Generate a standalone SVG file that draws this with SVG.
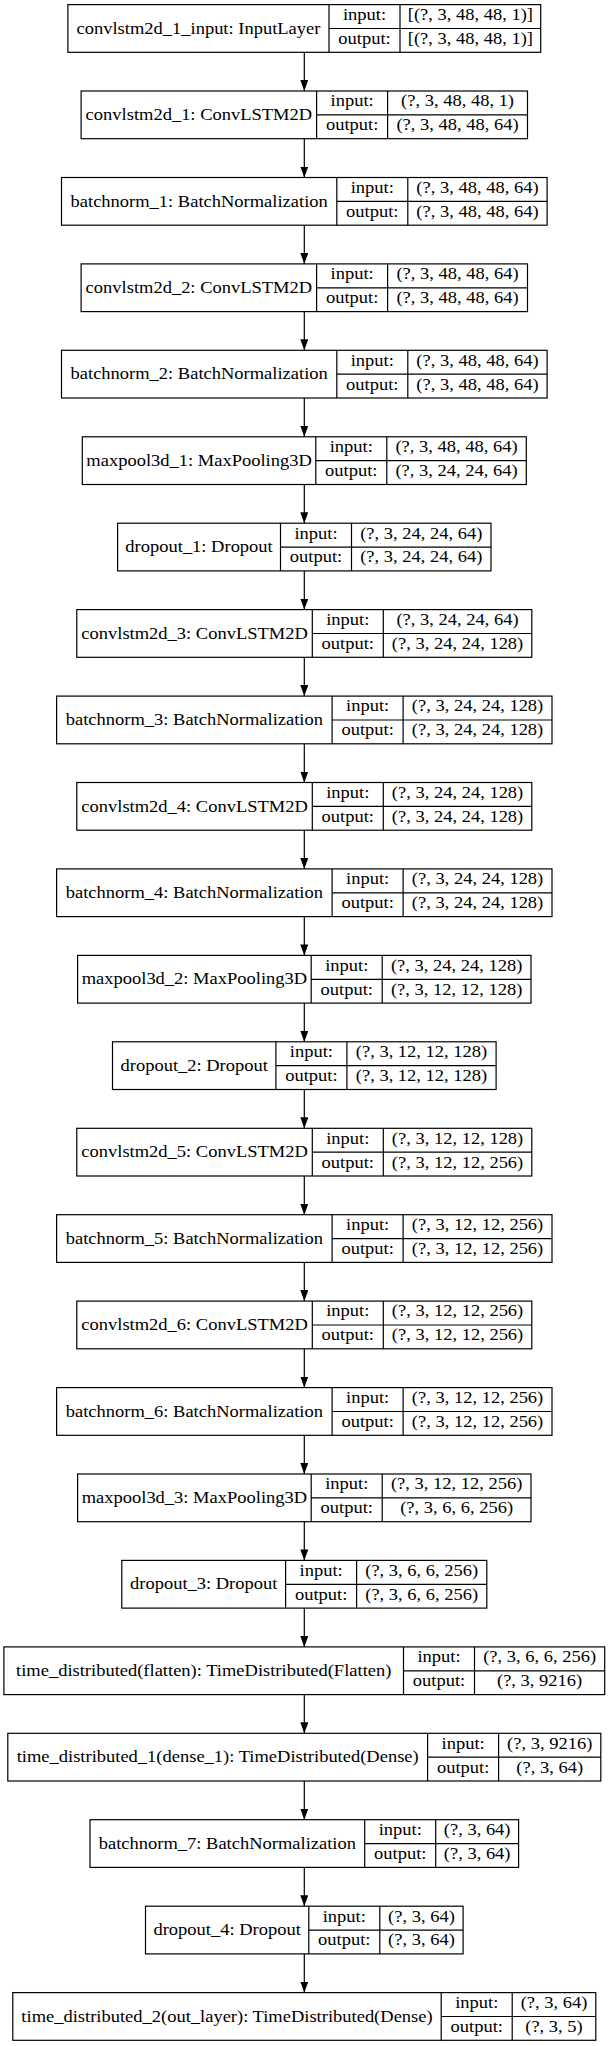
<svg xmlns="http://www.w3.org/2000/svg" width="608" height="2046" viewBox="0 0 608 2046">
<style>
.box{fill:#fff;stroke:#000;stroke-width:1.2}
.sep{fill:none;stroke:#000;stroke-width:1.2}
.edge{fill:none;stroke:#000;stroke-width:1.2}
text{font-family:"Liberation Serif","Times New Roman",serif;font-size:16.2px;fill:#000;text-anchor:middle}
</style>
<defs>
<marker id="ah" markerUnits="userSpaceOnUse" markerWidth="11" markerHeight="8" viewBox="0 0 11 8" refX="11" refY="4" orient="auto">
<path d="M0,0L11,4L0,8z" fill="#000"/>
</marker>
</defs>
<rect x="0" y="0" width="608" height="2046" fill="#fff"/>
<g id="edges">
<path class="edge" marker-end="url(#ah)" d="M304.3,52.3V91.0"/>
<path class="edge" marker-end="url(#ah)" d="M304.3,138.7V177.5"/>
<path class="edge" marker-end="url(#ah)" d="M304.3,225.2V263.9"/>
<path class="edge" marker-end="url(#ah)" d="M304.3,311.6V350.3"/>
<path class="edge" marker-end="url(#ah)" d="M304.3,398.0V436.8"/>
<path class="edge" marker-end="url(#ah)" d="M304.3,484.5V523.2"/>
<path class="edge" marker-end="url(#ah)" d="M304.3,570.9V609.6"/>
<path class="edge" marker-end="url(#ah)" d="M304.3,657.3V696.1"/>
<path class="edge" marker-end="url(#ah)" d="M304.3,743.8V782.5"/>
<path class="edge" marker-end="url(#ah)" d="M304.3,830.2V868.9"/>
<path class="edge" marker-end="url(#ah)" d="M304.3,916.6V955.4"/>
<path class="edge" marker-end="url(#ah)" d="M304.3,1003.1V1041.8"/>
<path class="edge" marker-end="url(#ah)" d="M304.3,1089.5V1128.3"/>
<path class="edge" marker-end="url(#ah)" d="M304.3,1176.0V1214.7"/>
<path class="edge" marker-end="url(#ah)" d="M304.3,1262.4V1301.1"/>
<path class="edge" marker-end="url(#ah)" d="M304.3,1348.8V1387.6"/>
<path class="edge" marker-end="url(#ah)" d="M304.3,1435.3V1474.0"/>
<path class="edge" marker-end="url(#ah)" d="M304.3,1521.7V1560.4"/>
<path class="edge" marker-end="url(#ah)" d="M304.3,1608.1V1646.9"/>
<path class="edge" marker-end="url(#ah)" d="M304.3,1694.6V1733.3"/>
<path class="edge" marker-end="url(#ah)" d="M304.3,1781.0V1819.7"/>
<path class="edge" marker-end="url(#ah)" d="M304.3,1867.4V1906.2"/>
<path class="edge" marker-end="url(#ah)" d="M304.3,1953.9V1992.6"/>
</g>

<g id="n0" transform="translate(0,4.6)">
<rect class="box" x="67.9" y="0" width="472.8" height="47.7"/>
<path class="sep" d="M329,0V47.7M400,0V47.7M329,23.9H540.7"/>
<text transform="translate(198.45,29) scale(1.142,1)">convlstm2d_1_input: InputLayer</text>
<text transform="translate(364.5,15.3) scale(1.142,1)">input:</text>
<text transform="translate(364.5,39.2) scale(1.142,1)">output:</text>
<text transform="translate(470.35,15.3) scale(1.142,1)">[(?, 3, 48, 48, 1)]</text>
<text transform="translate(470.35,39.2) scale(1.142,1)">[(?, 3, 48, 48, 1)]</text>
</g>

<g id="n1" transform="translate(0,91.0)">
<rect class="box" x="81.1" y="0" width="446.4" height="47.7"/>
<path class="sep" d="M316.6,0V47.7M387.6,0V47.7M316.6,23.9H527.5"/>
<text transform="translate(198.85,29) scale(1.142,1)">convlstm2d_1: ConvLSTM2D</text>
<text transform="translate(352.1,15.3) scale(1.142,1)">input:</text>
<text transform="translate(352.1,39.2) scale(1.142,1)">output:</text>
<text transform="translate(457.55,15.3) scale(1.142,1)">(?, 3, 48, 48, 1)</text>
<text transform="translate(457.55,39.2) scale(1.142,1)">(?, 3, 48, 48, 64)</text>
</g>

<g id="n2" transform="translate(0,177.5)">
<rect class="box" x="61.5" y="0" width="485.6" height="47.7"/>
<path class="sep" d="M336.8,0V47.7M407.8,0V47.7M336.8,23.9H547.1"/>
<text transform="translate(199.15,29) scale(1.142,1)">batchnorm_1: BatchNormalization</text>
<text transform="translate(372.3,15.3) scale(1.142,1)">input:</text>
<text transform="translate(372.3,39.2) scale(1.142,1)">output:</text>
<text transform="translate(477.45,15.3) scale(1.142,1)">(?, 3, 48, 48, 64)</text>
<text transform="translate(477.45,39.2) scale(1.142,1)">(?, 3, 48, 48, 64)</text>
</g>

<g id="n3" transform="translate(0,263.9)">
<rect class="box" x="81.1" y="0" width="446.4" height="47.7"/>
<path class="sep" d="M316.6,0V47.7M387.6,0V47.7M316.6,23.9H527.5"/>
<text transform="translate(198.85,29) scale(1.142,1)">convlstm2d_2: ConvLSTM2D</text>
<text transform="translate(352.1,15.3) scale(1.142,1)">input:</text>
<text transform="translate(352.1,39.2) scale(1.142,1)">output:</text>
<text transform="translate(457.55,15.3) scale(1.142,1)">(?, 3, 48, 48, 64)</text>
<text transform="translate(457.55,39.2) scale(1.142,1)">(?, 3, 48, 48, 64)</text>
</g>

<g id="n4" transform="translate(0,350.3)">
<rect class="box" x="61.5" y="0" width="485.6" height="47.7"/>
<path class="sep" d="M336.8,0V47.7M407.8,0V47.7M336.8,23.9H547.1"/>
<text transform="translate(199.15,29) scale(1.142,1)">batchnorm_2: BatchNormalization</text>
<text transform="translate(372.3,15.3) scale(1.142,1)">input:</text>
<text transform="translate(372.3,39.2) scale(1.142,1)">output:</text>
<text transform="translate(477.45,15.3) scale(1.142,1)">(?, 3, 48, 48, 64)</text>
<text transform="translate(477.45,39.2) scale(1.142,1)">(?, 3, 48, 48, 64)</text>
</g>

<g id="n5" transform="translate(0,436.8)">
<rect class="box" x="82.3" y="0" width="444.0" height="47.7"/>
<path class="sep" d="M315.8,0V47.7M386.8,0V47.7M315.8,23.9H526.3"/>
<text transform="translate(199.05,29) scale(1.142,1)">maxpool3d_1: MaxPooling3D</text>
<text transform="translate(351.3,15.3) scale(1.142,1)">input:</text>
<text transform="translate(351.3,39.2) scale(1.142,1)">output:</text>
<text transform="translate(456.55,15.3) scale(1.142,1)">(?, 3, 48, 48, 64)</text>
<text transform="translate(456.55,39.2) scale(1.142,1)">(?, 3, 24, 24, 64)</text>
</g>

<g id="n6" transform="translate(0,523.2)">
<rect class="box" x="117.6" y="0" width="373.4" height="47.7"/>
<path class="sep" d="M280.5,0V47.7M351.5,0V47.7M280.5,23.9H491"/>
<text transform="translate(199.05,29) scale(1.142,1)">dropout_1: Dropout</text>
<text transform="translate(316,15.3) scale(1.142,1)">input:</text>
<text transform="translate(316,39.2) scale(1.142,1)">output:</text>
<text transform="translate(421.25,15.3) scale(1.142,1)">(?, 3, 24, 24, 64)</text>
<text transform="translate(421.25,39.2) scale(1.142,1)">(?, 3, 24, 24, 64)</text>
</g>

<g id="n7" transform="translate(0,609.6)">
<rect class="box" x="76.8" y="0" width="455.0" height="47.7"/>
<path class="sep" d="M312.3,0V47.7M383.3,0V47.7M312.3,23.9H531.8"/>
<text transform="translate(194.55,29) scale(1.142,1)">convlstm2d_3: ConvLSTM2D</text>
<text transform="translate(347.8,15.3) scale(1.142,1)">input:</text>
<text transform="translate(347.8,39.2) scale(1.142,1)">output:</text>
<text transform="translate(457.55,15.3) scale(1.142,1)">(?, 3, 24, 24, 64)</text>
<text transform="translate(457.55,39.2) scale(1.142,1)">(?, 3, 24, 24, 128)</text>
</g>

<g id="n8" transform="translate(0,696.1)">
<rect class="box" x="56.6" y="0" width="495.4" height="47.7"/>
<path class="sep" d="M332.1,0V47.7M403.1,0V47.7M332.1,23.9H552"/>
<text transform="translate(194.35,29) scale(1.142,1)">batchnorm_3: BatchNormalization</text>
<text transform="translate(367.6,15.3) scale(1.142,1)">input:</text>
<text transform="translate(367.6,39.2) scale(1.142,1)">output:</text>
<text transform="translate(477.55,15.3) scale(1.142,1)">(?, 3, 24, 24, 128)</text>
<text transform="translate(477.55,39.2) scale(1.142,1)">(?, 3, 24, 24, 128)</text>
</g>

<g id="n9" transform="translate(0,782.5)">
<rect class="box" x="76.8" y="0" width="455.0" height="47.7"/>
<path class="sep" d="M312.3,0V47.7M383.3,0V47.7M312.3,23.9H531.8"/>
<text transform="translate(194.55,29) scale(1.142,1)">convlstm2d_4: ConvLSTM2D</text>
<text transform="translate(347.8,15.3) scale(1.142,1)">input:</text>
<text transform="translate(347.8,39.2) scale(1.142,1)">output:</text>
<text transform="translate(457.55,15.3) scale(1.142,1)">(?, 3, 24, 24, 128)</text>
<text transform="translate(457.55,39.2) scale(1.142,1)">(?, 3, 24, 24, 128)</text>
</g>

<g id="n10" transform="translate(0,868.9)">
<rect class="box" x="56.6" y="0" width="495.4" height="47.7"/>
<path class="sep" d="M332.1,0V47.7M403.1,0V47.7M332.1,23.9H552"/>
<text transform="translate(194.35,29) scale(1.142,1)">batchnorm_4: BatchNormalization</text>
<text transform="translate(367.6,15.3) scale(1.142,1)">input:</text>
<text transform="translate(367.6,39.2) scale(1.142,1)">output:</text>
<text transform="translate(477.55,15.3) scale(1.142,1)">(?, 3, 24, 24, 128)</text>
<text transform="translate(477.55,39.2) scale(1.142,1)">(?, 3, 24, 24, 128)</text>
</g>

<g id="n11" transform="translate(0,955.4)">
<rect class="box" x="77.6" y="0" width="453.4" height="47.7"/>
<path class="sep" d="M311.2,0V47.7M382.2,0V47.7M311.2,23.9H531"/>
<text transform="translate(194.4,29) scale(1.142,1)">maxpool3d_2: MaxPooling3D</text>
<text transform="translate(346.7,15.3) scale(1.142,1)">input:</text>
<text transform="translate(346.7,39.2) scale(1.142,1)">output:</text>
<text transform="translate(456.6,15.3) scale(1.142,1)">(?, 3, 24, 24, 128)</text>
<text transform="translate(456.6,39.2) scale(1.142,1)">(?, 3, 12, 12, 128)</text>
</g>

<g id="n12" transform="translate(0,1041.8)">
<rect class="box" x="112.5" y="0" width="383.6" height="47.7"/>
<path class="sep" d="M275.9,0V47.7M346.9,0V47.7M275.9,23.9H496.1"/>
<text transform="translate(194.2,29) scale(1.142,1)">dropout_2: Dropout</text>
<text transform="translate(311.4,15.3) scale(1.142,1)">input:</text>
<text transform="translate(311.4,39.2) scale(1.142,1)">output:</text>
<text transform="translate(421.5,15.3) scale(1.142,1)">(?, 3, 12, 12, 128)</text>
<text transform="translate(421.5,39.2) scale(1.142,1)">(?, 3, 12, 12, 128)</text>
</g>

<g id="n13" transform="translate(0,1128.3)">
<rect class="box" x="76.8" y="0" width="455.0" height="47.7"/>
<path class="sep" d="M312.3,0V47.7M383.3,0V47.7M312.3,23.9H531.8"/>
<text transform="translate(194.55,29) scale(1.142,1)">convlstm2d_5: ConvLSTM2D</text>
<text transform="translate(347.8,15.3) scale(1.142,1)">input:</text>
<text transform="translate(347.8,39.2) scale(1.142,1)">output:</text>
<text transform="translate(457.55,15.3) scale(1.142,1)">(?, 3, 12, 12, 128)</text>
<text transform="translate(457.55,39.2) scale(1.142,1)">(?, 3, 12, 12, 256)</text>
</g>

<g id="n14" transform="translate(0,1214.7)">
<rect class="box" x="56.6" y="0" width="495.4" height="47.7"/>
<path class="sep" d="M332.1,0V47.7M403.1,0V47.7M332.1,23.9H552"/>
<text transform="translate(194.35,29) scale(1.142,1)">batchnorm_5: BatchNormalization</text>
<text transform="translate(367.6,15.3) scale(1.142,1)">input:</text>
<text transform="translate(367.6,39.2) scale(1.142,1)">output:</text>
<text transform="translate(477.55,15.3) scale(1.142,1)">(?, 3, 12, 12, 256)</text>
<text transform="translate(477.55,39.2) scale(1.142,1)">(?, 3, 12, 12, 256)</text>
</g>

<g id="n15" transform="translate(0,1301.1)">
<rect class="box" x="76.8" y="0" width="455.0" height="47.7"/>
<path class="sep" d="M312.3,0V47.7M383.3,0V47.7M312.3,23.9H531.8"/>
<text transform="translate(194.55,29) scale(1.142,1)">convlstm2d_6: ConvLSTM2D</text>
<text transform="translate(347.8,15.3) scale(1.142,1)">input:</text>
<text transform="translate(347.8,39.2) scale(1.142,1)">output:</text>
<text transform="translate(457.55,15.3) scale(1.142,1)">(?, 3, 12, 12, 256)</text>
<text transform="translate(457.55,39.2) scale(1.142,1)">(?, 3, 12, 12, 256)</text>
</g>

<g id="n16" transform="translate(0,1387.6)">
<rect class="box" x="56.6" y="0" width="495.4" height="47.7"/>
<path class="sep" d="M332.1,0V47.7M403.1,0V47.7M332.1,23.9H552"/>
<text transform="translate(194.35,29) scale(1.142,1)">batchnorm_6: BatchNormalization</text>
<text transform="translate(367.6,15.3) scale(1.142,1)">input:</text>
<text transform="translate(367.6,39.2) scale(1.142,1)">output:</text>
<text transform="translate(477.55,15.3) scale(1.142,1)">(?, 3, 12, 12, 256)</text>
<text transform="translate(477.55,39.2) scale(1.142,1)">(?, 3, 12, 12, 256)</text>
</g>

<g id="n17" transform="translate(0,1474.0)">
<rect class="box" x="77.6" y="0" width="453.4" height="47.7"/>
<path class="sep" d="M311.2,0V47.7M382.2,0V47.7M311.2,23.9H531"/>
<text transform="translate(194.4,29) scale(1.142,1)">maxpool3d_3: MaxPooling3D</text>
<text transform="translate(346.7,15.3) scale(1.142,1)">input:</text>
<text transform="translate(346.7,39.2) scale(1.142,1)">output:</text>
<text transform="translate(456.6,15.3) scale(1.142,1)">(?, 3, 12, 12, 256)</text>
<text transform="translate(456.6,39.2) scale(1.142,1)">(?, 3, 6, 6, 256)</text>
</g>

<g id="n18" transform="translate(0,1560.4)">
<rect class="box" x="121.8" y="0" width="365.0" height="47.7"/>
<path class="sep" d="M285.6,0V47.7M356.6,0V47.7M285.6,23.9H486.8"/>
<text transform="translate(203.7,29) scale(1.142,1)">dropout_3: Dropout</text>
<text transform="translate(321.1,15.3) scale(1.142,1)">input:</text>
<text transform="translate(321.1,39.2) scale(1.142,1)">output:</text>
<text transform="translate(421.7,15.3) scale(1.142,1)">(?, 3, 6, 6, 256)</text>
<text transform="translate(421.7,39.2) scale(1.142,1)">(?, 3, 6, 6, 256)</text>
</g>

<g id="n19" transform="translate(0,1646.9)">
<rect class="box" x="3.9" y="0" width="600.8" height="47.7"/>
<path class="sep" d="M403.5,0V47.7M474.5,0V47.7M403.5,23.9H604.7"/>
<text transform="translate(203.7,29) scale(1.142,1)">time_distributed(flatten): TimeDistributed(Flatten)</text>
<text transform="translate(439,15.3) scale(1.142,1)">input:</text>
<text transform="translate(439,39.2) scale(1.142,1)">output:</text>
<text transform="translate(539.6,15.3) scale(1.142,1)">(?, 3, 6, 6, 256)</text>
<text transform="translate(539.6,39.2) scale(1.142,1)">(?, 3, 9216)</text>
</g>

<g id="n20" transform="translate(0,1733.3)">
<rect class="box" x="7.8" y="0" width="593.0" height="47.7"/>
<path class="sep" d="M427.6,0V47.7M498.6,0V47.7M427.6,23.9H600.8"/>
<text transform="translate(217.7,29) scale(1.142,1)">time_distributed_1(dense_1): TimeDistributed(Dense)</text>
<text transform="translate(463.1,15.3) scale(1.142,1)">input:</text>
<text transform="translate(463.1,39.2) scale(1.142,1)">output:</text>
<text transform="translate(549.7,15.3) scale(1.142,1)">(?, 3, 9216)</text>
<text transform="translate(549.7,39.2) scale(1.142,1)">(?, 3, 64)</text>
</g>

<g id="n21" transform="translate(0,1819.7)">
<rect class="box" x="90" y="0" width="428.6" height="47.7"/>
<path class="sep" d="M364.7,0V47.7M435.7,0V47.7M364.7,23.9H518.6"/>
<text transform="translate(227.35,29) scale(1.142,1)">batchnorm_7: BatchNormalization</text>
<text transform="translate(400.2,15.3) scale(1.142,1)">input:</text>
<text transform="translate(400.2,39.2) scale(1.142,1)">output:</text>
<text transform="translate(477.15,15.3) scale(1.142,1)">(?, 3, 64)</text>
<text transform="translate(477.15,39.2) scale(1.142,1)">(?, 3, 64)</text>
</g>

<g id="n22" transform="translate(0,1906.2)">
<rect class="box" x="145.5" y="0" width="317.6" height="47.7"/>
<path class="sep" d="M308.8,0V47.7M379.8,0V47.7M308.8,23.9H463.1"/>
<text transform="translate(227.15,29) scale(1.142,1)">dropout_4: Dropout</text>
<text transform="translate(344.3,15.3) scale(1.142,1)">input:</text>
<text transform="translate(344.3,39.2) scale(1.142,1)">output:</text>
<text transform="translate(421.45,15.3) scale(1.142,1)">(?, 3, 64)</text>
<text transform="translate(421.45,39.2) scale(1.142,1)">(?, 3, 64)</text>
</g>

<g id="n23" transform="translate(0,1992.6)">
<rect class="box" x="12.8" y="0" width="583.0" height="47.7"/>
<path class="sep" d="M441.2,0V47.7M512.2,0V47.7M441.2,23.9H595.8"/>
<text transform="translate(227,29) scale(1.142,1)">time_distributed_2(out_layer): TimeDistributed(Dense)</text>
<text transform="translate(476.7,15.3) scale(1.142,1)">input:</text>
<text transform="translate(476.7,39.2) scale(1.142,1)">output:</text>
<text transform="translate(554,15.3) scale(1.142,1)">(?, 3, 64)</text>
<text transform="translate(554,39.2) scale(1.142,1)">(?, 3, 5)</text>
</g>
</svg>
